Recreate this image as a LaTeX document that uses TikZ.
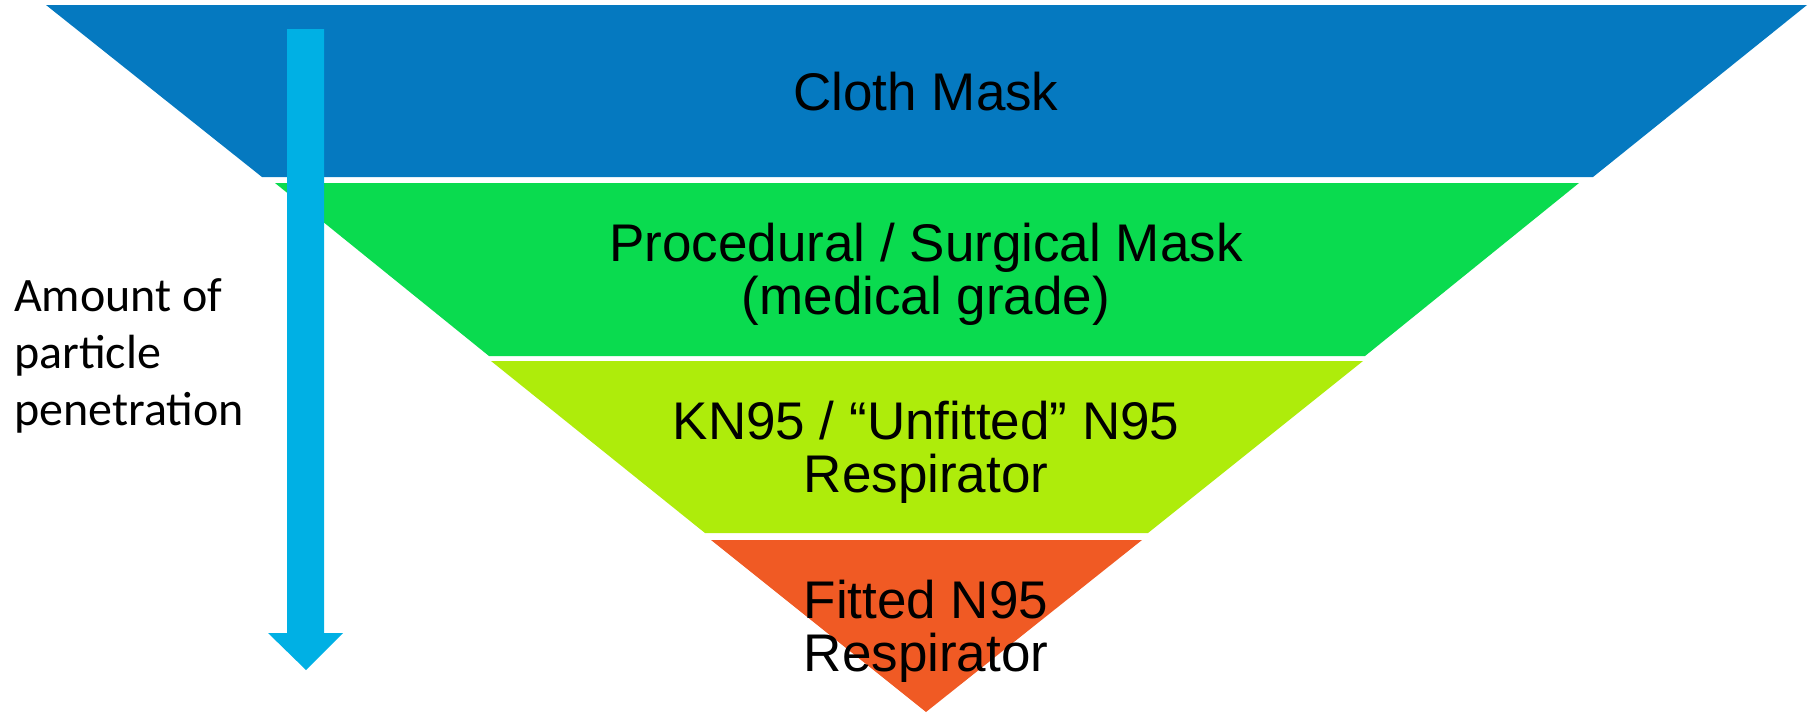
\documentclass[tikz,border=0pt]{standalone}
\usepackage{fontspec}
\setmainfont{Liberation Sans}
\newfontfamily\calibrifont{Carlito}
\definecolor{clothblue}{HTML}{0579C0}
\definecolor{surgicalgreen}{HTML}{0ADB4F}
\definecolor{kngreen}{HTML}{AEEC0B}
\definecolor{fittedorange}{HTML}{F05A24}
\definecolor{arrowblue}{HTML}{00B0E4}
\begin{document}
\begin{tikzpicture}[x=1pt,y=-1pt,
    layer/.style={font=\fontsize{53}{53}\selectfont,align=center,inner sep=0pt},
    sidelabel/.style={font=\calibrifont\fontsize{48}{57}\selectfont,align=left,inner sep=0pt}]
    \useasboundingbox (0,0) rectangle (1814,712);
    % layers of the funnel
    \fill[clothblue] (46,5) -- (1807,5) -- (1593,177) -- (262,177) -- cycle;
    \fill[surgicalgreen] (275,183) -- (1579,183) -- (1365,356) -- (489,356) -- cycle;
    \fill[kngreen] (491,361) -- (1363,361) -- (1148,533) -- (705,533) -- cycle;
    \fill[fittedorange] (711,540) -- (1142,540) -- (926,712) -- cycle;
    \node[layer,anchor=base] (cloth) at (926,110) {Cloth Mask};
    \node[layer] (surgical) at (926,274) {Procedural / Surgical Mask\\(medical grade)};
    \node[layer] (kn95) at (926,452) {KN95 / “Unfitted” N95\\Respirator};
    \node[layer] (fitted) at (926,631) {Fitted N95\\Respirator};
    % arrow
    \fill[arrowblue] (287,29) -- (324,29) -- (324,633) -- (343,633) -- (306,670)
        -- (268,633) -- (287,633) -- cycle;
    \node[sidelabel,anchor=west] (amount) at (14,356) {Amount of\\particle\\penetration};
\end{tikzpicture}
\end{document}
